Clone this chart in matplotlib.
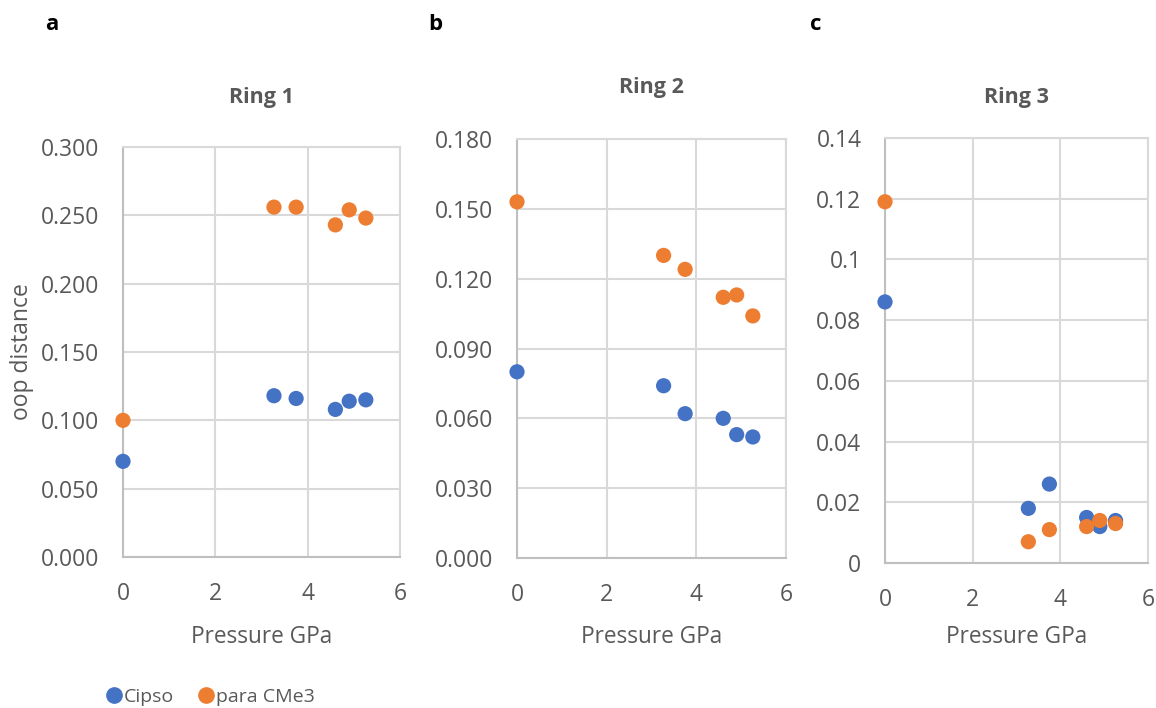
import matplotlib
matplotlib.use("Agg")
import matplotlib.pyplot as plt
from matplotlib.lines import Line2D

# pressure (GPa), same for every ring
pressure = [0, 3.27, 3.75, 4.6, 4.9, 5.26]

# out-of-plane distances
ring1_cipso = [0.070, 0.118, 0.116, 0.108, 0.114, 0.115]
ring1_cme3 = [0.100, 0.256, 0.256, 0.243, 0.254, 0.248]
ring2_cipso = [0.080, 0.074, 0.062, 0.060, 0.053, 0.052]
ring2_cme3 = [0.153, 0.130, 0.124, 0.112, 0.113, 0.104]
ring3_cipso = [0.086, 0.018, 0.026, 0.015, 0.012, 0.014]
ring3_cme3 = [0.119, 0.007, 0.011, 0.012, 0.014, 0.013]

titles = ["Ring 1", "Ring 2", "Ring 3"]
letters = ["a", "b", "c"]
y_ticks = [
    [0, 0.05, 0.10, 0.15, 0.20, 0.25, 0.30],
    [0, 0.03, 0.06, 0.09, 0.12, 0.15, 0.18],
    [0, 0.02, 0.04, 0.06, 0.08, 0.10, 0.12, 0.14],
]
y_fmt = ["{:.3f}", "{:.3f}", "{:g}"]

BLUE = "#4472C4"
ORANGE = "#ED7D31"
GREY = "#595959"
GRID = "#D9D9D9"

W, H = 1156, 708
plt.rcParams["font.family"] = ["Open Sans", "DejaVu Sans"]

fig = plt.figure(figsize=(W / 100, H / 100), dpi=100)


def box(l, t, r, b):
    return [l / W, 1 - b / H, (r - l) / W, (b - t) / H]


def ftext(x, y, s, **kw):
    fig.text(x / W, 1 - y / H, s, **kw)


# pixel boxes of the three plot areas (left, top, right, bottom)
boxes = [(123, 147, 400, 557), (517, 139, 786, 558), (885, 138, 1148, 563)]
title_y = [97, 87, 97]
letter_x = [45, 428, 810]
xlabel_y = [637, 637, 637]

series = [(ring1_cipso, ring1_cme3), (ring2_cipso, ring2_cme3), (ring3_cipso, ring3_cme3)]

for i in range(3):
    l, t, r, b = boxes[i]
    ax = fig.add_axes(box(l, t, r, b))
    cipso, cme3 = series[i]
    ax.scatter(pressure, cipso, s=120, color=BLUE, edgecolors="none", zorder=3, clip_on=False)
    ax.scatter(pressure, cme3, s=120, color=ORANGE, edgecolors="none", zorder=3, clip_on=False)

    ax.set_xlim(0, 6)
    ax.set_xticks([0, 2, 4, 6])
    ax.set_ylim(y_ticks[i][0], y_ticks[i][-1])
    ax.set_yticks(y_ticks[i])
    ax.set_yticklabels([y_fmt[i].format(v) for v in y_ticks[i]])
    ax.grid(True, color=GRID, linewidth=1.5, zorder=0)
    ax.set_axisbelow(True)
    ax.tick_params(length=0, labelsize=16.5, colors=GREY, pad=17)
    ax.tick_params(axis="x", pad=18)
    for name, sp in ax.spines.items():
        sp.set_color(GRID)
        sp.set_linewidth(1.5)
    ax.spines["left"].set_color("#BFBFBF")
    ax.spines["bottom"].set_color("#BFBFBF")

    cx = (l + r) / 2
    ftext(cx, title_y[i], titles[i], ha="center", va="center", fontsize=15.5,
          fontweight="bold", color=GREY)
    ftext(letter_x[i], 25, letters[i], ha="left", va="center", fontsize=16,
          fontweight="bold", color="black")
    ftext(cx, xlabel_y[i], "Pressure GPa", ha="center", va="center", fontsize=16.3, color=GREY)

ftext(22, 352, "oop distance", ha="center", va="center", rotation=90, fontsize=16.5, color=GREY)

handles = [
    Line2D([], [], marker="o", linestyle="none", color=BLUE, markersize=11, label="Cipso"),
    Line2D([], [], marker="o", linestyle="none", color=ORANGE, markersize=11, label="para CMe3"),
]
fig.legend(handles=handles, loc="center left", bbox_to_anchor=(96 / W, 1 - 697 / H),
           ncol=2, frameon=False, fontsize=14, handletextpad=0.05, columnspacing=1.1,
           labelcolor=GREY, borderaxespad=0, handlelength=1.0)

fig.savefig("out.png", dpi=100)
